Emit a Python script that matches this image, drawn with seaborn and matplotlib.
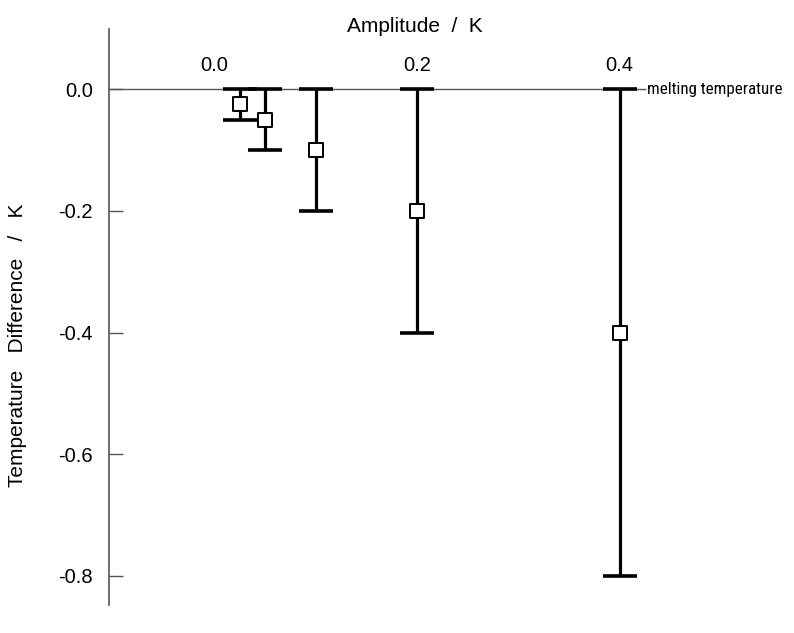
import matplotlib
matplotlib.use("Agg")
import matplotlib.pyplot as plt
from matplotlib import font_manager
import seaborn as sns
import pandas as pd

amplitude = [0.025, 0.05, 0.1, 0.2, 0.4]
temp_diff = [-0.025, -0.05, -0.1, -0.2, -0.4]
err_low = [0.025, 0.05, 0.1, 0.2, 0.4]
err_high = [0.025, 0.05, 0.1, 0.2, 0.4]
x_ticks = [0.0, 0.2, 0.4]
x_ticklabels = ["0.0", "0.2", "0.4"]
y_ticks = [0.0, -0.2, -0.4, -0.6, -0.8]
y_ticklabels = ["0.0", "-0.2", "-0.4", "-0.6", "-0.8"]
melt_end = 0.426

df = pd.DataFrame({"amp": amplitude, "diff": temp_diff})

sns.set_theme(style="white")
plt.rcParams["font.family"] = ["Liberation Sans", "DejaVu Sans"]
plt.rcParams["axes.unicode_minus"] = False
plt.rcParams["text.color"] = "black"
plt.rcParams["axes.labelcolor"] = "black"
plt.rcParams["xtick.labelcolor"] = "black"
plt.rcParams["ytick.labelcolor"] = "black"

names = {f.name for f in font_manager.fontManager.ttflist}
narrow = None
for cand in ["Liberation Sans Narrow", "Roboto Condensed", "Open Sans Condensed", "DejaVu Sans Condensed"]:
    if cand in names:
        narrow = cand
        break

fig = plt.figure(figsize=(7.94, 6.33), dpi=100)
ax = fig.add_axes([109 / 794, 28 / 633, (721 - 109) / 794, (605 - 29) / 633])

ax.set_xlim(-0.104, 0.5)
ax.set_ylim(-0.848, 0.099)

# melting temperature line
ax.hlines(0, -0.104, melt_end, color="#555555", lw=1.0, zorder=1)

ax.errorbar(amplitude, temp_diff, yerr=[err_low, err_high], fmt="none",
            ecolor="black", elinewidth=2.3, capsize=12, capthick=2.6, zorder=2)
sns.scatterplot(data=df, x="amp", y="diff", marker="s", s=115, color="white",
                edgecolor="black", linewidth=1.4, zorder=3, ax=ax, legend=False)

txt_kw = dict(fontsize=12.2, va="center", ha="left", color="black")
if narrow:
    ax.text(melt_end + 0.001, 0, "melting temperature", family=narrow, **txt_kw)
else:
    ax.text(melt_end + 0.001, 0, "melting temperature", **txt_kw)

for s in ["bottom", "right"]:
    ax.spines[s].set_visible(False)
ax.spines["top"].set_position(("data", 0))
ax.spines["top"].set_visible(False)
ax.spines["left"].set_color("#555555")
ax.spines["left"].set_linewidth(1.2)

ax.xaxis.tick_top()
ax.xaxis.set_label_position("top")
ax.set_xticks(x_ticks)
ax.set_xticklabels(x_ticklabels)
ax.tick_params(axis="x", length=0, pad=10, labelsize=14.5)

ax.set_yticks(y_ticks)
ax.set_yticklabels(y_ticklabels)
ax.tick_params(axis="y", direction="in", length=10, width=1, color="#555555",
               pad=11.5, labelsize=14.5, left=True)

ax.set_xlabel("Amplitude  /  K", fontsize=15)
ax.xaxis.set_label_coords(0.5, 1.005)
ax.xaxis.label.set_va("center")
ax.set_ylabel("Temperature   Difference   /   K", fontsize=15)
ax.yaxis.set_label_coords(-0.149, 0.451)
ax.yaxis.label.set_va("center")

fig.savefig("out.png", dpi=100)
